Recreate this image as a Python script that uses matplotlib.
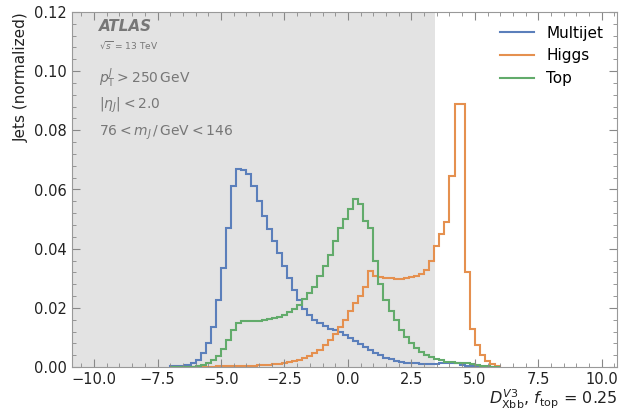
import numpy as np
import matplotlib.pyplot as plt
from matplotlib.ticker import AutoMinorLocator, MultipleLocator

# histogram bins: width 0.2, from -7.0 to 6.0
bin_edges = np.round(np.arange(-7.0, 6.0001, 0.2), 1)

multijet = [
    0.0002, 0.0003, 0.0005, 0.0008, 0.0014, 0.0025, 0.0047, 0.0081, 0.0136, 0.0228,
    0.0336, 0.047, 0.0613, 0.067, 0.0665, 0.0652, 0.0612, 0.056, 0.051, 0.0465,
    0.0425, 0.0385, 0.034, 0.030, 0.026, 0.0225, 0.0195, 0.0175, 0.016, 0.0148,
    0.0138, 0.013, 0.0124, 0.0118, 0.0108, 0.0098, 0.0088, 0.0078, 0.0068, 0.0058,
    0.0048, 0.004, 0.0032, 0.0026, 0.0021, 0.0018, 0.0015, 0.0013, 0.0012, 0.0011,
    0.001, 0.001, 0.001, 0.0012, 0.0014, 0.0015, 0.0012, 0.0008, 0.0004, 0.0002,
    0.0001, 0.0, 0.0, 0.0, 0.0,
]

higgs = [
    0.0, 0.0, 0.0, 0.0, 0.0, 0.0, 0.0, 0.0001, 0.0001, 0.0002,
    0.0002, 0.0002, 0.0003, 0.0003, 0.0004, 0.0004, 0.0005, 0.0006, 0.0007, 0.0008,
    0.0009, 0.0011, 0.0013, 0.0016, 0.002, 0.0025, 0.003, 0.0038, 0.0047, 0.0058,
    0.0075, 0.0092, 0.0112, 0.0135, 0.016, 0.0188, 0.0215, 0.024, 0.0272, 0.0324,
    0.0308, 0.0305, 0.0302, 0.030, 0.0298, 0.0298, 0.030, 0.0303, 0.0308, 0.0313,
    0.0327, 0.0357, 0.041, 0.045, 0.049, 0.0646, 0.089, 0.089, 0.032, 0.013,
    0.0075, 0.004, 0.002, 0.001, 0.0005,
]

top = [
    0.0, 0.0, 0.0, 0.0, 0.0001, 0.0003, 0.0006, 0.0012, 0.0022, 0.0038,
    0.0062, 0.0092, 0.0125, 0.015, 0.0157, 0.0157, 0.0156, 0.0157, 0.0159, 0.0161,
    0.0164, 0.0168, 0.0176, 0.0185, 0.0196, 0.021, 0.0229, 0.025, 0.027, 0.0306,
    0.034, 0.038, 0.0425, 0.047, 0.050, 0.0535, 0.0568, 0.055, 0.0494, 0.047,
    0.036, 0.028, 0.0228, 0.019, 0.016, 0.0126, 0.010, 0.008, 0.0065, 0.005,
    0.004, 0.0034, 0.0027, 0.0022, 0.0018, 0.0016, 0.0015, 0.0014, 0.0012, 0.001,
    0.0007, 0.0004, 0.0002, 0.0001, 0.0,
]

labels = ["Multijet", "Higgs", "Top"]
colors = ["#5b7fbb", "#e5904f", "#62ab6b"]
cut_value = 3.42

fig = plt.figure(figsize=(6.21, 4.11), dpi=100)
ax = fig.add_axes([72 / 621, 1 - 367 / 411, 545 / 621, 355 / 411])

xmin, xmax = -10.87, 10.6
ax.axvspan(xmin, cut_value, color="#e3e3e3", zorder=0, lw=0)

for vals, lab, col in zip([multijet, higgs, top], labels, colors):
    ax.stairs(vals, bin_edges, color=col, lw=1.5, label=lab)

ax.set_xlim(xmin, xmax)
ax.set_ylim(0, 0.12)
ax.xaxis.set_major_locator(MultipleLocator(2.5))
ax.xaxis.set_minor_locator(AutoMinorLocator(5))
ax.yaxis.set_major_locator(MultipleLocator(0.02))
ax.yaxis.set_minor_locator(AutoMinorLocator(5))
ax.tick_params(which="both", direction="in", top=True, right=True,
               color="#888888", labelsize=10.5, labelcolor="#222222")
ax.tick_params(which="major", length=6)
ax.tick_params(which="minor", length=3)
for s in ax.spines.values():
    s.set_color("#999999")

ax.set_ylabel("Jets (normalized)", loc="top", fontsize=11, color="#222222")
ax.set_xlabel(r"$D_{\mathrm{Xbb}}^{V3}$, $f_{\mathrm{top}}$ = 0.25",
              loc="right", fontsize=11.5, color="#222222", labelpad=0.5)

grey = "#777777"
tx = ax.transAxes
ax.text(0.05, 0.958, "ATLAS", transform=tx, fontsize=11, fontweight="bold",
        fontstyle="italic", color=grey, va="center")
ax.text(0.05, 0.907, r"$\sqrt{s}$ = 13 TeV", transform=tx, fontsize=6.5,
        color=grey, va="center")
ax.text(0.05, 0.814, r"$p_{\mathrm{T}}^{J} > 250\,\mathrm{GeV}$", transform=tx,
        fontsize=10, color=grey, va="center")
ax.text(0.05, 0.738, r"$|\eta_J| < 2.0$", transform=tx, fontsize=10,
        color=grey, va="center")
ax.text(0.05, 0.659, r"$76 < m_J\,/\,\mathrm{GeV} < 146$", transform=tx,
        fontsize=10, color=grey, va="center")

ax.legend(loc="upper right", frameon=False, fontsize=11, handlelength=2.2,
          bbox_to_anchor=(1.0, 1.0))

fig.savefig("out.png", dpi=100)
